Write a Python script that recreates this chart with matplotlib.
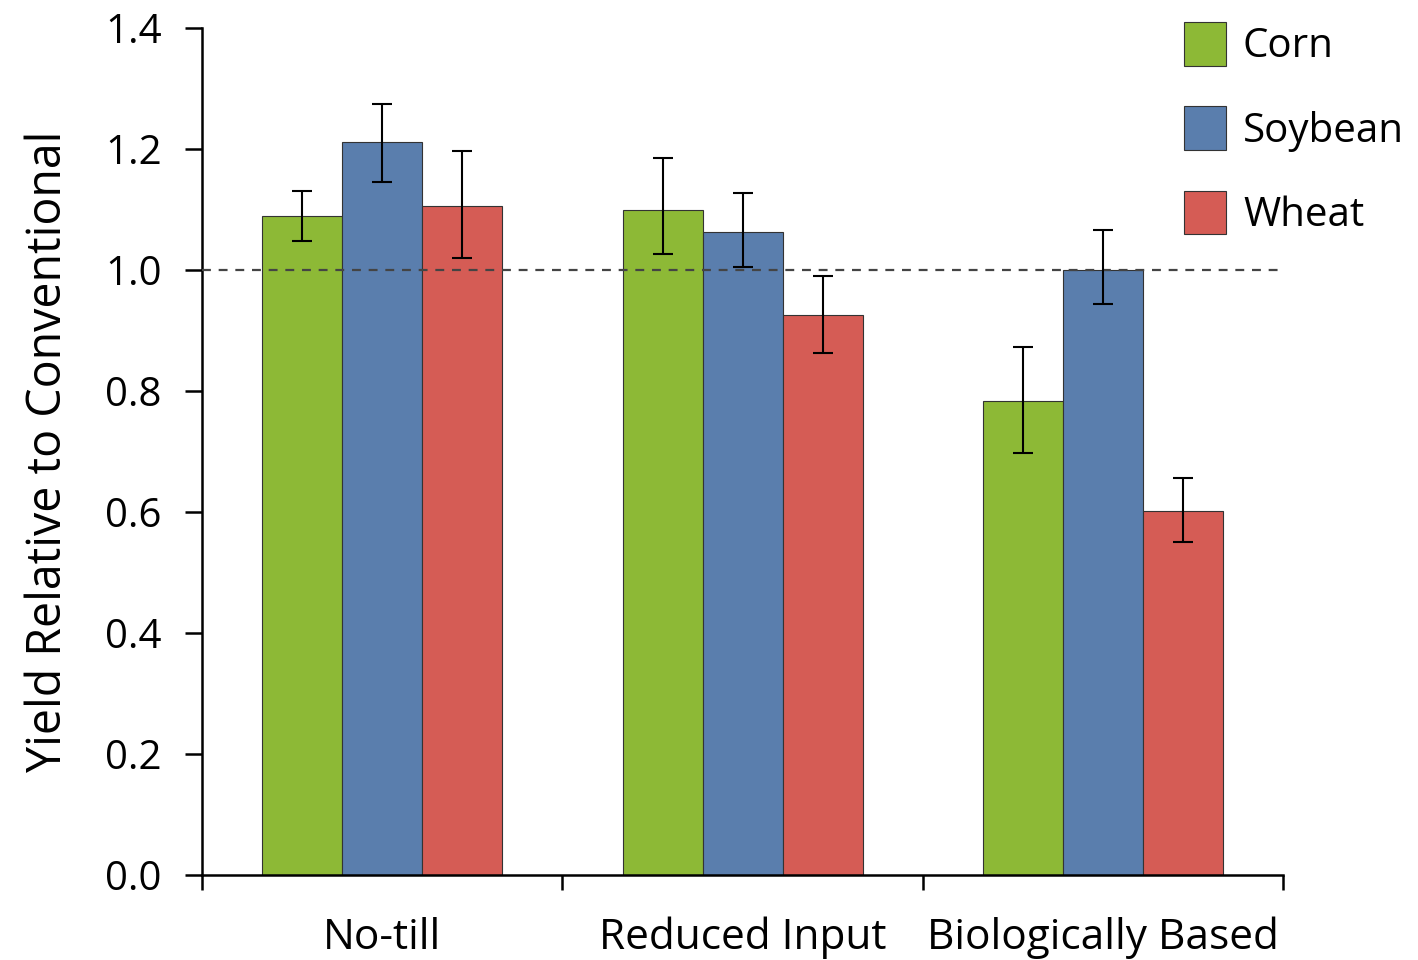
import numpy as np
import matplotlib.pyplot as plt
from matplotlib.patches import Patch

plt.rcParams['font.family'] = ['Open Sans', 'DejaVu Sans']

# data
categories = ['No-till', 'Reduced Input', 'Biologically Based']
series = ['Corn', 'Soybean', 'Wheat']
values = {
    'Corn':    [1.089, 1.099, 0.783],
    'Soybean': [1.212, 1.063, 1.000],
    'Wheat':   [1.106, 0.926, 0.602],
}
err_high = {
    'Corn':    [1.131, 1.185, 0.873],
    'Soybean': [1.274, 1.127, 1.066],
    'Wheat':   [1.197, 0.990, 0.656],
}
err_low = {
    'Corn':    [1.048, 1.026, 0.698],
    'Soybean': [1.145, 1.005, 0.944],
    'Wheat':   [1.020, 0.863, 0.550],
}
colors = {'Corn': '#8DB936', 'Soybean': '#5A7EAD', 'Wheat': '#D55C55'}
yticks = [0.0, 0.2, 0.4, 0.6, 0.8, 1.0, 1.2, 1.4]

fig = plt.figure(figsize=(14.18, 9.6), dpi=100)
ax = fig.add_axes([0.1425, 0.0885, 0.7625, 0.8823])

width = 0.222
centers = np.arange(len(categories)) + 0.5
for i, s in enumerate(series):
    x = centers + (i - 1) * width
    v = np.array(values[s])
    lo = v - np.array(err_low[s])
    hi = np.array(err_high[s]) - v
    ax.bar(x, v, width, color=colors[s], edgecolor='#333333', linewidth=0.8, zorder=2)
    ax.errorbar(x, v, yerr=[lo, hi], fmt='none', ecolor='black',
                elinewidth=1.5, capsize=7.5, capthick=1.5, zorder=4)

# reference line at 1.0
ax.axhline(1.0, color='#444444', linestyle=(0, (4, 3.5)), linewidth=1.6, zorder=3)

ax.set_xlim(0, 3)
ax.set_ylim(0, 1.4)
ax.set_yticks(yticks)
ax.set_yticklabels([f'{t:.1f}' for t in yticks])
ax.set_xticks([0, 1, 2, 3])
ax.set_xticklabels([])
ax.set_xticks(centers, minor=True)
ax.set_xticklabels(categories, minor=True)
ax.tick_params(axis='x', which='major', direction='out', length=11, width=1.8)
ax.tick_params(axis='x', which='minor', length=0, pad=30, labelsize=30.5)
ax.tick_params(axis='y', direction='out', length=12, width=1.8, pad=17, labelsize=29)

for side in ['top', 'right']:
    ax.spines[side].set_visible(False)
for side in ['left', 'bottom']:
    ax.spines[side].set_linewidth(1.8)

ax.set_ylabel('Yield Relative to Conventional', fontsize=33.5, labelpad=24)

handles = [Patch(facecolor=colors[s], edgecolor='#333333', linewidth=0.8, label=s) for s in series]
ax.legend(handles=handles, loc='upper left', bbox_to_anchor=(0.893, 1.026),
          frameon=False, fontsize=29, handlelength=1.05, handleheight=1.28,
          handletextpad=0.42, labelspacing=0.97, borderaxespad=0)

fig.savefig('out.png', dpi=100)
